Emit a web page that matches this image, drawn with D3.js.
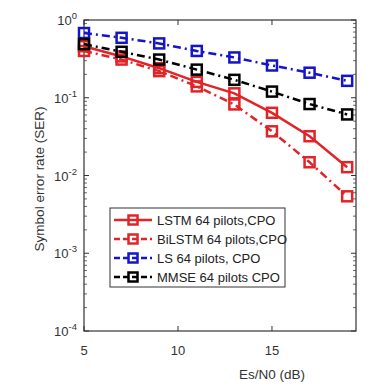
<!DOCTYPE html>
<html><head><meta charset="utf-8">
<script src="https://cdn.jsdelivr.net/npm/d3@7"></script>
<style>body{margin:0;background:#fff}svg{display:block}text{font-family:"Liberation Sans",Arial,sans-serif}</style>
</head><body>
<svg id="c" width="388" height="389"></svg>
<script>
const snr = [5, 7, 9, 11, 13, 15, 17, 19];
const lstm = [0.46, 0.34, 0.24, 0.16, 0.114, 0.064, 0.032, 0.0128];
const bilstm = [0.40, 0.31, 0.22, 0.14, 0.082, 0.037, 0.0148, 0.0054];
const ls = [0.68, 0.59, 0.50, 0.40, 0.33, 0.26, 0.21, 0.165];
const mmse = [0.49, 0.39, 0.31, 0.23, 0.17, 0.12, 0.083, 0.061];
const seriesNames = ["LSTM 64 pilots,CPO", "BiLSTM 64 pilots,CPO", "LS 64 pilots, CPO", "MMSE 64 pilots CPO"];
const xTicks = [5, 10, 15];
const yTicks = [1, 0.1, 0.01, 0.001, 0.0001];
const yExp = ["0", "-1", "-2", "-3", "-4"];

const series = [
  {name: seriesNames[0], values: lstm, color: "#e02428", dash: null},
  {name: seriesNames[1], values: bilstm, color: "#e02428", dash: "8,4,2,4"},
  {name: seriesNames[2], values: ls, color: "#1414c8", dash: "8,4,2,4"},
  {name: seriesNames[3], values: mmse, color: "#000000", dash: "8,4,2,4"}
];

const svg = d3.select("#c");
const L = 84, R = 356, T = 20, B = 331;
const x = d3.scaleLinear().domain([5, 19.47]).range([L, R]);
const y = d3.scaleLog().domain([1e-4, 1]).range([B, T]);

const minor = [];
for (let e = -4; e < 0; e++) for (let m = 2; m <= 9; m++) minor.push(m * Math.pow(10, e));
const g = svg.append("g");
minor.forEach(v => {
  g.append("line").attr("x1", L).attr("x2", L + 3).attr("y1", y(v)).attr("y2", y(v)).attr("stroke", "#444").attr("stroke-width", 0.8);
  g.append("line").attr("x1", R).attr("x2", R - 3).attr("y1", y(v)).attr("y2", y(v)).attr("stroke", "#444").attr("stroke-width", 0.8);
});
yTicks.forEach(v => {
  g.append("line").attr("x1", L).attr("x2", L + 5).attr("y1", y(v)).attr("y2", y(v)).attr("stroke", "#333");
  g.append("line").attr("x1", R).attr("x2", R - 5).attr("y1", y(v)).attr("y2", y(v)).attr("stroke", "#333");
});
xTicks.forEach(v => {
  g.append("line").attr("x1", x(v)).attr("x2", x(v)).attr("y1", B).attr("y2", B - 5).attr("stroke", "#333");
  g.append("line").attr("x1", x(v)).attr("x2", x(v)).attr("y1", T).attr("y2", T + 5).attr("stroke", "#333");
});
g.append("rect").attr("x", L).attr("y", T).attr("width", R - L).attr("height", B - T)
  .attr("fill", "none").attr("stroke", "#333").attr("stroke-width", 1.2);

yTicks.forEach((v, i) => {
  const t = svg.append("text").attr("x", 77).attr("y", y(v) + 5).attr("text-anchor", "end")
    .attr("font-size", 13).attr("fill", "#333");
  t.append("tspan").text("10");
  t.append("tspan").attr("dy", -6).attr("font-size", 9.5).text(yExp[i]);
});
xTicks.forEach(v => {
  svg.append("text").attr("x", x(v)).attr("y", 355).attr("text-anchor", "middle")
    .attr("font-size", 13).attr("fill", "#333").text(v);
});
svg.append("text").attr("x", 272).attr("y", 379).attr("text-anchor", "middle")
  .attr("font-size", 13.5).attr("fill", "#333").text("Es/N0 (dB)");
svg.append("text").attr("transform", "translate(44,179) rotate(-90)").attr("text-anchor", "middle")
  .attr("font-size", 13.5).attr("fill", "#333").text("Symbol error rate (SER)");

const line = d3.line().x((d, i) => x(snr[i])).y(d => y(d));
const ms = 10;
series.forEach(s => {
  svg.append("path").attr("d", line(s.values)).attr("fill", "none")
    .attr("stroke", s.color).attr("stroke-width", 2.5)
    .attr("stroke-dasharray", s.dash);
  svg.append("g").selectAll("rect").data(s.values).join("rect")
    .attr("x", (d, i) => x(snr[i]) - ms / 2).attr("y", d => y(d) - ms / 2)
    .attr("width", ms).attr("height", ms).attr("fill", "none")
    .attr("stroke", s.color).attr("stroke-width", 2.5);
});

const lg = svg.append("g");
lg.append("rect").attr("x", 110).attr("y", 208).attr("width", 175).attr("height", 79)
  .attr("fill", "#fff").attr("stroke", "#333").attr("stroke-width", 1);
series.forEach((s, i) => {
  const yy = 220 + i * 19;
  lg.append("line").attr("x1", 114).attr("x2", 152).attr("y1", yy).attr("y2", yy)
    .attr("stroke", s.color).attr("stroke-width", 2.5).attr("stroke-dasharray", s.dash ? "6,3" : null);
  lg.append("rect").attr("x", 133 - 4.5).attr("y", yy - 4.5).attr("width", 9).attr("height", 9)
    .attr("fill", "none").attr("stroke", s.color).attr("stroke-width", 2.5);
  lg.append("text").attr("x", 157).attr("y", yy + 4.5).attr("font-size", 13).attr("fill", "#222").text(s.name);
});
</script>
</body></html>
